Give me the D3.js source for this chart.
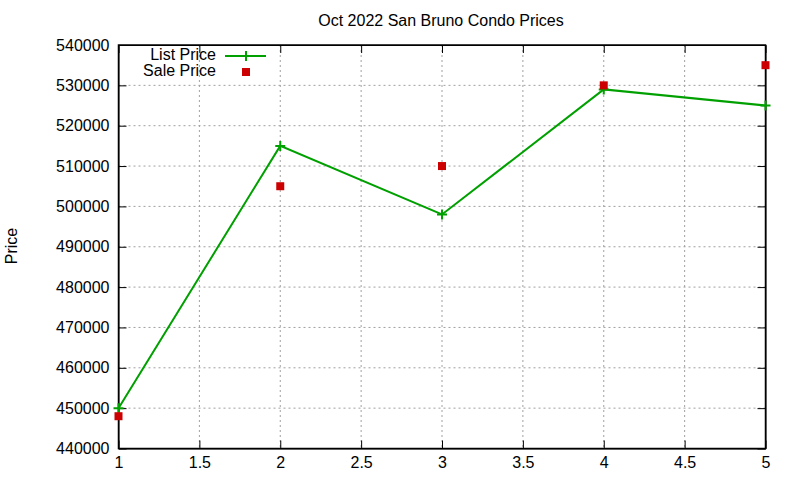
<!DOCTYPE html>
<html>
<head>
<meta charset="utf-8">
<script src="https://cdn.jsdelivr.net/npm/d3@7"></script>
<style>
  body { margin: 0; background: #fff; }
  text { font-family: 'Liberation Sans', Arial, sans-serif; }
</style>
</head>
<body>
<svg id="chart" width="800" height="480"></svg>
<script>
const days = [1, 2, 3, 4, 5]
const listPrice = [450000, 515000, 498000, 529000, 525000]
const salePrice = [448000, 505000, 510000, 530000, 535000]
const xTicks = [1, 1.5, 2, 2.5, 3, 3.5, 4, 4.5, 5]
const yTicks = [440000, 450000, 460000, 470000, 480000, 490000, 500000, 510000, 520000, 530000, 540000]

const svg = d3.select('#chart')
const margin = { top: 45, right: 34.5, bottom: 31.5, left: 118.5 }
const width = 800 - margin.left - margin.right
const height = 480 - margin.top - margin.bottom

const x = d3.scaleLinear().domain([1, 5]).range([0, width])
const y = d3.scaleLinear().domain([440000, 540000]).range([height, 0])

const g = svg.append('g').attr('transform', `translate(${margin.left},${margin.top})`)

// grid
g.append('g')
  .selectAll('line')
  .data(xTicks.slice(1, -1))
  .enter()
  .append('line')
  .attr('x1', d => x(d)).attr('x2', d => x(d))
  .attr('y1', 0).attr('y2', height)
  .attr('stroke', '#a0a0a0').attr('stroke-dasharray', '2,3')

g.append('g')
  .selectAll('line')
  .data(yTicks.slice(1, -1))
  .enter()
  .append('line')
  .attr('y1', d => y(d)).attr('y2', d => y(d))
  .attr('x1', 0).attr('x2', width)
  .attr('stroke', '#a0a0a0').attr('stroke-dasharray', '2,3')

// axes, ticks inward and mirrored
const xAxis = d3.axisBottom(x).tickValues(xTicks).tickFormat(d3.format('')).tickSizeInner(-8).tickSizeOuter(0).tickPadding(8)
const yAxis = d3.axisLeft(y).tickValues(yTicks).tickFormat(d3.format('d')).tickSizeInner(-8).tickSizeOuter(0).tickPadding(9)

g.append('g').attr('transform', `translate(0,${height})`).call(xAxis)
  .call(a => a.selectAll('text').attr('font-size', 16).attr('fill', '#000'))
g.append('g').call(yAxis)
  .call(a => a.selectAll('text').attr('font-size', 16).attr('fill', '#000'))
g.append('g').call(d3.axisTop(x).tickValues(xTicks).tickSizeInner(-8).tickSizeOuter(0).tickFormat(''))
g.append('g').attr('transform', `translate(${width},0)`)
  .call(d3.axisRight(y).tickValues(yTicks).tickSizeInner(-8).tickSizeOuter(0).tickFormat(''))

g.selectAll('.domain').attr('stroke', '#000')
g.selectAll('.tick line').attr('stroke', '#000')

g.append('rect')
  .attr('width', width).attr('height', height)
  .attr('fill', 'none').attr('stroke', '#000').attr('stroke-width', 1.5)

// list price line
const line = d3.line().x((d, i) => x(days[i])).y(d => y(d))
g.append('path')
  .datum(listPrice)
  .attr('d', line)
  .attr('fill', 'none')
  .attr('stroke', '#00a000')
  .attr('stroke-width', 2)

g.selectAll('.pt')
  .data(listPrice)
  .enter()
  .append('path')
  .attr('d', 'M-5,0H5M0,-5V5')
  .attr('transform', (d, i) => `translate(${x(days[i])},${y(d)})`)
  .attr('stroke', '#00a000')
  .attr('stroke-width', 2)

// sale price squares
g.selectAll('.sq')
  .data(salePrice)
  .enter()
  .append('rect')
  .attr('x', (d, i) => x(days[i]) - 4)
  .attr('y', d => y(d) - 4)
  .attr('width', 8).attr('height', 8)
  .attr('fill', '#cc0000')

// title and label
svg.append('text')
  .attr('x', 441).attr('y', 26)
  .attr('text-anchor', 'middle')
  .attr('font-size', 16)
  .text('Oct 2022 San Bruno Condo Prices')

svg.append('text')
  .attr('transform', 'translate(17,246) rotate(-90)')
  .attr('text-anchor', 'middle')
  .attr('font-size', 16)
  .text('Price')

// legend
const legend = svg.append('g')
legend.append('text').attr('x', 216).attr('y', 60).attr('text-anchor', 'end').attr('font-size', 16).text('List Price')
legend.append('line').attr('x1', 225).attr('x2', 266).attr('y1', 56).attr('y2', 56)
  .attr('stroke', '#00a000').attr('stroke-width', 2)
legend.append('path').attr('d', 'M-5,0H5M0,-5V5').attr('transform', 'translate(246,56)')
  .attr('stroke', '#00a000').attr('stroke-width', 2)
legend.append('text').attr('x', 216).attr('y', 76).attr('text-anchor', 'end').attr('font-size', 16).text('Sale Price')
legend.append('rect').attr('x', 242).attr('y', 68).attr('width', 8).attr('height', 8).attr('fill', '#cc0000')
</script>
</body>
</html>
